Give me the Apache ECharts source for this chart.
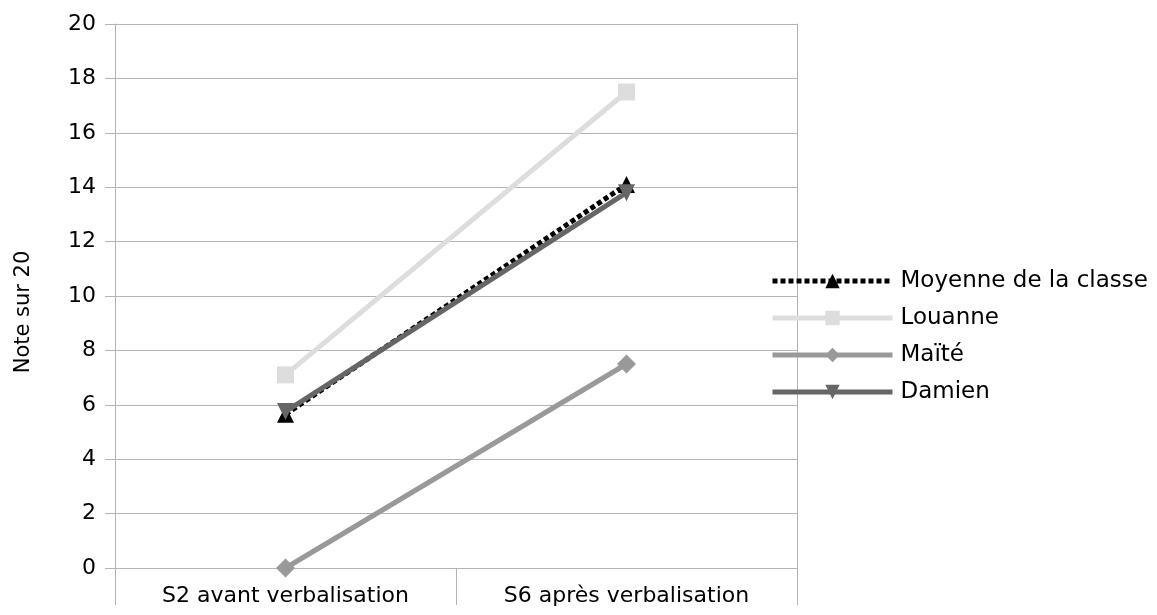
<!DOCTYPE html>
<html>
<head>
<meta charset="utf-8">
<script src="https://cdn.jsdelivr.net/npm/echarts@6/dist/echarts.min.js"></script>
<style>html,body{margin:0;padding:0;background:#fff;}#c{width:1157px;height:615px;}</style>
</head>
<body>
<div id="c"></div>
<script>
const categories = ['S2 avant verbalisation', 'S6 après verbalisation'];
const moyenne = [5.65, 14.1];
const louanne = [7.1, 17.5];
const maite = [0, 7.5];
const damien = [5.75, 13.8];
const seriesNames = ['Moyenne de la classe', 'Louanne', 'Maïté', 'Damien'];
const yAxisName = 'Note sur 20';

const FONT = 'DejaVu Sans';
const chart = echarts.init(document.getElementById('c'));
chart.setOption({
  animation: false,
  backgroundColor: '#ffffff',
  textStyle: { fontFamily: FONT },
  grid: { left: 115, right: 360, top: 24, bottom: 47, outerBoundsMode: 'none', containLabel: false },
  legend: {
    orient: 'vertical',
    left: 770,
    top: 269,
    padding: 0,
    itemWidth: 120,
    itemHeight: 18,
    itemGap: 13,
    lineStyle: { width: 5 },
    textStyle: { fontFamily: FONT, fontSize: 23, color: '#000', lineHeight: 24, padding: [0, 0, 0, 3] },
    data: seriesNames
  },
  xAxis: {
    type: 'category',
    data: categories,
    boundaryGap: true,
    axisLine: { lineStyle: { color: '#b3b3b3', width: 1 } },
    axisTick: { show: true, length: 37, interval: 0, lineStyle: { color: '#b3b3b3' } },
    axisLabel: { fontFamily: FONT, fontSize: 22, color: '#000', margin: 17, interval: 0 },
    splitLine: { show: false }
  },
  yAxis: [{
    type: 'value',
    min: 0, max: 20, interval: 2,
    name: yAxisName,
    nameLocation: 'middle',
    nameGap: 81,
    nameRotate: 90,
    nameTextStyle: { fontFamily: FONT, fontSize: 21, color: '#000', padding: [0, 32, 0, 0] },
    axisLine: { show: true, lineStyle: { color: '#b3b3b3' } },
    axisTick: { show: true, length: 10, lineStyle: { color: '#b3b3b3' } },
    axisLabel: { fontFamily: FONT, fontSize: 22, color: '#000', margin: 19 },
    splitLine: { show: true, lineStyle: { color: '#b3b3b3', width: 1 } }
  }, {
    type: 'value',
    position: 'right',
    min: 0, max: 20, interval: 2,
    axisLine: { show: true, lineStyle: { color: '#b3b3b3' } },
    axisTick: { show: false },
    axisLabel: { show: false },
    splitLine: { show: false }
  }],
  series: [
    {
      name: seriesNames[0], type: 'line', data: moyenne,
      symbol: 'triangle', symbolSize: 17,
      lineStyle: { color: '#000000', width: 5, type: [5, 3] },
      itemStyle: { color: '#000000' }
    },
    {
      name: seriesNames[1], type: 'line', data: louanne,
      symbol: 'rect', symbolSize: 17,
      lineStyle: { color: '#dddddd', width: 5 },
      itemStyle: { color: '#dddddd' }
    },
    {
      name: seriesNames[2], type: 'line', data: maite,
      symbol: 'diamond', symbolSize: 19,
      lineStyle: { color: '#999999', width: 5 },
      itemStyle: { color: '#999999' }
    },
    {
      name: seriesNames[3], type: 'line', data: damien,
      symbol: 'triangle', symbolRotate: 180, symbolSize: 17,
      lineStyle: { color: '#666666', width: 5 },
      itemStyle: { color: '#666666' }
    }
  ]
});
</script>
</body>
</html>
